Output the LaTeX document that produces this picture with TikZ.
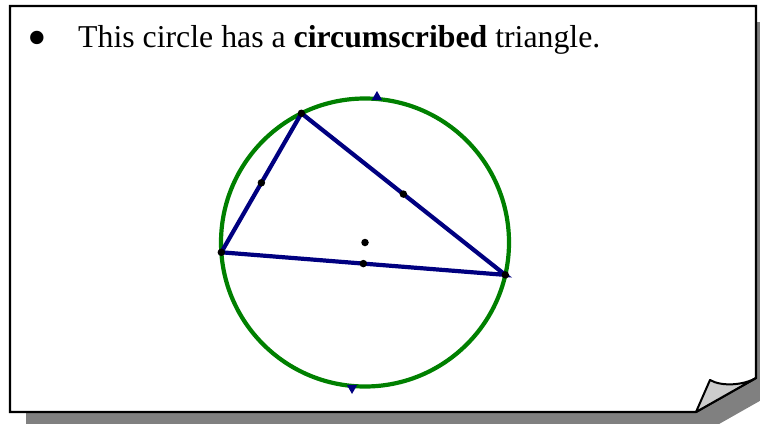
\documentclass[tikz,border=0pt]{standalone}
\usepackage{fontspec}
\setmainfont{Liberation Serif}
\usetikzlibrary{shapes.geometric, positioning, calc}
\definecolor{navyline}{RGB}{0,0,128}
\definecolor{circlegreen}{RGB}{0,128,0}
\definecolor{shadowgray}{RGB}{128,128,128}
\definecolor{foldgray}{RGB}{204,204,204}
\tikzset{
    card/.style={draw, fill=white, line width=2.2pt, line join=miter},
    shadow/.style={fill=shadowgray},
    fold/.style={draw, fill=foldgray, line width=2pt, line join=round},
    side/.style={draw=navyline, line width=4.2pt},
    ring/.style={circle, draw=circlegreen, line width=4.2pt, inner sep=0pt, minimum size=288pt},
    dot/.style={circle, fill=black, inner sep=0pt, minimum size=7.5pt},
    handle/.style={regular polygon, regular polygon sides=3, fill=navyline, inner sep=0pt, minimum size=12pt},
    slidetext/.style={font=\fontsize{31.8}{38}\selectfont, inner sep=0pt}
}

\begin{document}
\begin{tikzpicture}[x=1pt, y=-1pt]
    \useasboundingbox (0,0) rectangle (760,423);
    % Card, shadow and curl
    \fill [shadow] (26,22) -- (772,22) -- (772,394) -- (712,428) -- (26,428) -- cycle;
    \path [card] (10,6) -- (756,6) -- (756,378) -- (696,412) -- (10,412) -- cycle;
    \path [fold] (696,412) -- (710,380) .. controls (722,387) and (744,385) .. (756,378) -- cycle;

    % Place nodes
    \node [slidetext, anchor=base west] (title) at (78,47) {This circle has a \textbf{circumscribed} triangle.};
    \node [font=\fontsize{56}{60}\selectfont, inner sep=0pt] (bullet) at (37.5,44) {\textbullet};
    \coordinate (O) at (365,242.5);
    \node [ring] (circ) at (O) {};
    \coordinate (A) at ($(O)+(116.2:144pt)$);
    \coordinate (B) at ($(O)+(183.9:144pt)$);
    \coordinate (C) at ($(O)+(347:144pt)$);

    % Draw edges
    \draw [side] (A) -- (B) -- (C) -- cycle;

    % Points
    \node [dot] (dotA) at (A) {};
    \node [dot] (dotB) at (B) {};
    \node [dot] (dotC) at (C) {};
    \node [dot] (midAB) at ($(A)!0.5!(B)$) {};
    \node [dot] (midBC) at ($(B)!0.5!(C)$) {};
    \node [dot] (midCA) at ($(C)!0.5!(A)$) {};
    \node [dot] (center) at (O) {};
    \node [handle] (top) at ($(O)+(85.3:146pt)$) {};
    \node [handle, rotate=180] (bottom) at ($(O)+(264.9:146pt)$) {};
\end{tikzpicture}
\end{document}
